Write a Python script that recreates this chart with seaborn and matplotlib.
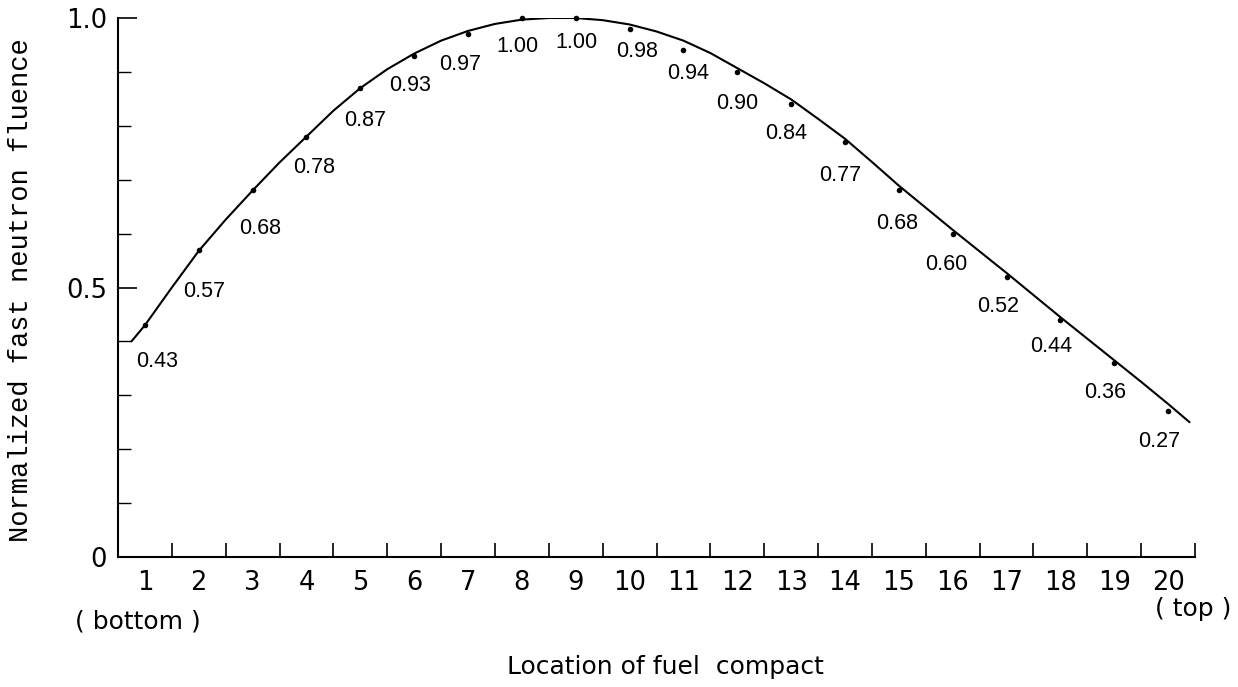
import matplotlib
matplotlib.use("Agg")
import matplotlib.pyplot as plt
from matplotlib.ticker import FixedLocator, NullFormatter
import seaborn as sns
import pandas as pd

# Measured fluence per fuel compact (1 = bottom, 20 = top)
compacts = list(range(1, 21))
fluence = [0.43, 0.57, 0.68, 0.78, 0.87, 0.93, 0.97, 1.00, 1.00, 0.98,
           0.94, 0.90, 0.84, 0.77, 0.68, 0.60, 0.52, 0.44, 0.36, 0.27]
value_labels = ["0.43", "0.57", "0.68", "0.78", "0.87", "0.93", "0.97", "1.00",
                "1.00", "0.98", "0.94", "0.90", "0.84", "0.77", "0.68", "0.60",
                "0.52", "0.44", "0.36", "0.27"]

# Axial fluence profile curve
curve_x = [0.75, 1.0, 1.5, 2.0, 2.5, 3.0, 3.5, 4.0, 4.5, 5.0, 5.5, 6.0, 6.5,
           7.0, 7.5, 8.0, 8.5, 9.0, 9.5, 10.0, 10.5, 11.0, 11.5, 12.0, 12.5,
           13.0, 13.5, 14.0, 14.5, 15.0, 15.5, 16.0, 16.5, 17.0, 17.5, 18.0,
           18.5, 19.0, 19.5, 20.0, 20.4]
curve_y = [0.400, 0.430, 0.500, 0.568, 0.626, 0.680, 0.732, 0.780, 0.828,
           0.870, 0.905, 0.934, 0.958, 0.976, 0.989, 0.997, 1.000, 1.000,
           0.996, 0.988, 0.975, 0.958, 0.935, 0.907, 0.879, 0.849, 0.813,
           0.776, 0.733, 0.689, 0.648, 0.607, 0.567, 0.527, 0.486, 0.445,
           0.405, 0.365, 0.325, 0.284, 0.250]

x_ticklabels = [str(c) for c in compacts]
y_ticks = [0.0, 0.5, 1.0]
y_ticklabels = ["0", "0.5", "1.0"]

# label offsets (pixels) relative to each dot
label_offsets = [(12, -36), (5, -42), (7, -38), (8, -31), (5, -32), (-4, -30),
                 (-8, -30), (-4, -28), (1, -25), (7, -23), (5, -23), (0, -32),
                 (-5, -29), (-5, -34), (-2, -33), (-6, -31), (-8, -30),
                 (-9, -27), (-9, -30), (-9, -30)]

sns.set_style("white")
plt.rcParams["font.family"] = ["Liberation Sans", "DejaVu Sans"]
plt.rcParams["text.color"] = "black"
plt.rcParams["axes.labelcolor"] = "black"
plt.rcParams["xtick.color"] = "black"
plt.rcParams["ytick.color"] = "black"

axis_font = ["DejaVu Sans"]

points = pd.DataFrame({"compact": compacts, "fluence": fluence})
profile = pd.DataFrame({"x": curve_x, "y": curve_y})

fig = plt.figure(figsize=(12.38, 6.87), dpi=100)
W, H = 1238, 687
ax = fig.add_axes([118 / W, 1 - 557 / H, (1195 - 118) / W, (557 - 18) / H])

sns.lineplot(data=profile, x="x", y="y", ax=ax, color="black", linewidth=1.5,
             sort=False, estimator=None)
sns.scatterplot(data=points, x="compact", y="fluence", ax=ax, color="black",
                s=16, linewidth=0, clip_on=False, zorder=3)

for c, v, txt, (dx, dy) in zip(compacts, fluence, value_labels, label_offsets):
    ax.annotate(txt, xy=(c, v), xytext=(dx, dy), textcoords="offset pixels",
                ha="center", va="center", fontsize=15.5, color="black")

ax.set_xlim(0.5, 20.5)
ax.set_ylim(0, 1.0)

# x: labels centred on each compact, tick marks at the boundaries
ax.xaxis.set_major_locator(FixedLocator(compacts))
ax.set_xticklabels(x_ticklabels)
ax.xaxis.set_minor_locator(FixedLocator([c + 0.5 for c in compacts]))
ax.tick_params(axis="x", which="major", length=0, pad=9, labelsize=18.5)
ax.tick_params(axis="x", which="minor", direction="in", length=10, width=1.2,
               bottom=True)

ax.yaxis.set_major_locator(FixedLocator(y_ticks))
ax.set_yticklabels(y_ticklabels)
ax.yaxis.set_minor_locator(FixedLocator([0.1, 0.2, 0.3, 0.4, 0.6, 0.7, 0.8, 0.9]))
ax.yaxis.set_minor_formatter(NullFormatter())
ax.tick_params(axis="y", which="major", direction="in", length=14, width=1.2,
               pad=8, labelsize=18.5, left=True)
ax.tick_params(axis="y", which="minor", direction="in", length=9, width=1.0,
               left=True)

for lab in ax.get_xticklabels() + ax.get_yticklabels():
    lab.set_family(axis_font)

for side in ("top", "right"):
    ax.spines[side].set_visible(False)
for side in ("left", "bottom"):
    ax.spines[side].set_color("black")
    ax.spines[side].set_linewidth(1.5)

ax.set_xlabel("Location of fuel  compact", fontsize=18, family=axis_font)
ax.xaxis.set_label_coords(0.508, -0.182)
ax.xaxis.label.set_va("top")

ax.set_ylabel("Normalized fast neutron fluence", fontsize=19.5,
              family=["Liberation Mono", "DejaVu Sans Mono"])
ax.yaxis.set_label_coords(-0.078, 0.495)

ax.annotate("( bottom )", xy=(1, 0), xytext=(-7, -64), textcoords="offset pixels",
            ha="center", va="center", fontsize=18, family=axis_font)
ax.annotate("( top )", xy=(20, 0), xytext=(25, -52), textcoords="offset pixels",
            ha="center", va="center", fontsize=18, family=axis_font)

fig.savefig("out.png", dpi=100, facecolor="white")
